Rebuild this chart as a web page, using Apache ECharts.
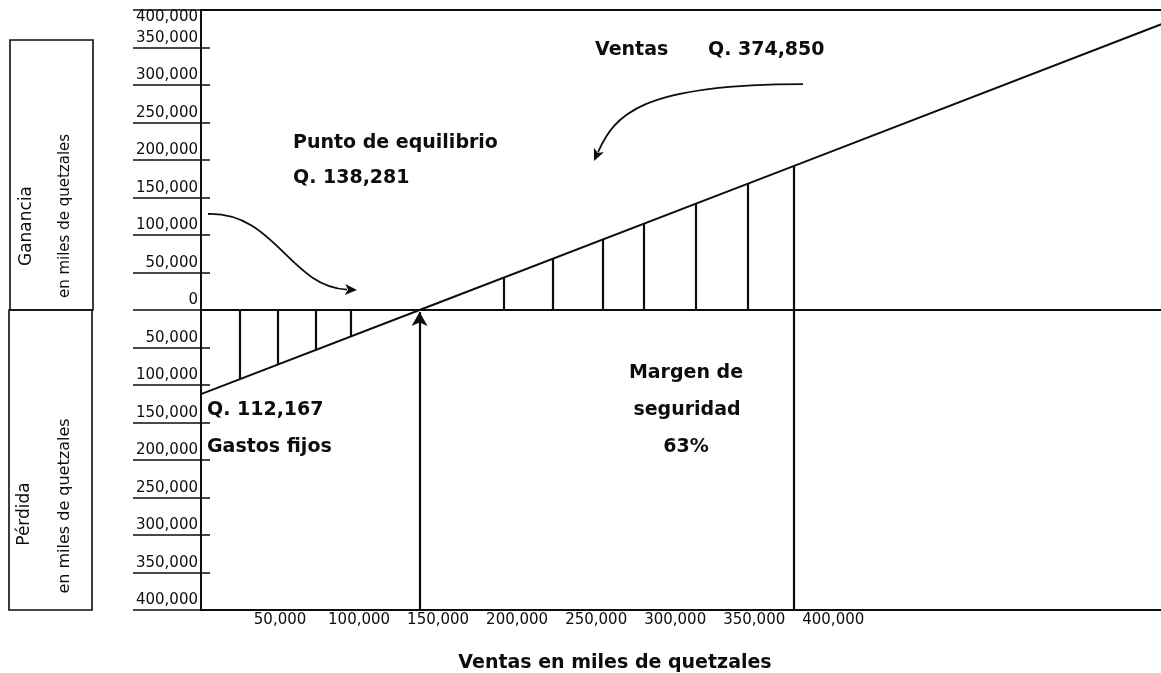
<!DOCTYPE html>
<html><head><meta charset="utf-8">
<script src="https://cdn.jsdelivr.net/npm/echarts@6/dist/echarts.min.js"></script>
<style>html,body{margin:0;padding:0;background:#fff}#c{width:1161px;height:673px}</style>
</head><body><div id="c"></div>
<script>
// ---- data ----
const lineSales  = [0, 138281, 374850, 610000];        // ventas (Q)
const lineProfit = [-112167, 0, 191880, 383000];       // ganancia / pérdida (Q)
const breakEvenSales = 138281;
const totalSales = 374850;
const totalSalesProfit = 191880;
const hatchSales  = [24700, 48700, 72800, 95000, 191700, 222300, 254200, 280200, 313300, 345700];
const hatchProfit = [-92000, -73000, -54000, -35000, 43000, 68000, 94000, 115000, 142000, 168000];
const xTickLabels = ['', '50,000', '100,000', '150,000', '200,000', '250,000', '300,000', '350,000', '400,000'];
const yTickLabels = ['400,000','350,000','300,000','250,000','200,000','150,000','100,000','50,000','0',
                     '50,000','100,000','150,000','200,000','250,000','300,000','350,000','400,000'];
const yTickValues = [400000,350000,300000,250000,200000,150000,100000,50000,0,
                     -50000,-100000,-150000,-200000,-250000,-300000,-350000,-400000];
// annotation arrows: start, control 1, control 2, tip (data units)
const arrowGastos = [[4400, 128000], [46800, 130700], [56300, 30700], [98700, 26700]];
const arrowVentas = [[380900, 301300], [277700, 301300], [261900, 260000], [248600, 198700]];

const INK = '#0d0d0d';
const chart = echarts.init(document.getElementById('c'), null, {renderer: 'canvas'});

function yLabel(v) {
  const i = yTickValues.indexOf(v);
  return i >= 0 ? yTickLabels[i] : '';
}
function xLabel(v) {
  const i = Math.round(v / 50000);
  return (v % 50000 === 0 && i < xTickLabels.length) ? xTickLabels[i] : '';
}

const hatchPairs = hatchSales.map((s, i) => [{coord: [s, 0]}, {coord: [s, hatchProfit[i]]}]);
hatchPairs.push([{coord: [totalSales, totalSalesProfit]}, {coord: [totalSales, -400000]}]);

const boldFont = {fontFamily: 'DejaVu Sans', fontWeight: 'bold', fontSize: 19, fill: INK};
function txt(text, x, y, align) {
  return {type: 'text', style: Object.assign({text: text, x: x, y: y, align: align || 'left', verticalAlign: 'middle'}, boldFont)};
}

const option = {
  animation: false,
  backgroundColor: '#fff',
  grid: {left: 201, right: -20, top: 10, bottom: 63, containLabel: false, outerBoundsMode: 'none',
         show: true, borderColor: INK, borderWidth: 1.8, backgroundColor: 'transparent'},
  xAxis: {
    type: 'value', min: 0, max: 620000, interval: 50000,
    axisLine: {onZero: false, show: true, lineStyle: {color: INK, width: 1.8}},
    axisTick: {show: false}, splitLine: {show: false},
    axisLabel: {formatter: xLabel, fontFamily: 'DejaVu Sans', fontSize: 15, color: INK, margin: 3, showMaxLabel: false}
  },
  yAxis: [{
    type: 'value', min: -400000, max: 400000, interval: 50000,
    axisLine: {show: true, lineStyle: {color: INK, width: 1.8}},
    axisTick: {show: true, length: 68, lineStyle: {color: INK, width: 1.5}},
    splitLine: {show: false},
    axisLabel: {formatter: yLabel, fontFamily: 'DejaVu Sans', fontSize: 15, color: INK, margin: 3,
                verticalAlign: 'bottom', verticalAlignMaxLabel: 'top', padding: [0, 0, 2, 0]}
  }, {
    type: 'value', min: -400000, max: 400000, interval: 50000, position: 'left',
    axisLine: {show: false}, axisLabel: {show: false}, splitLine: {show: false},
    axisTick: {show: true, inside: true, length: 9, lineStyle: {color: INK, width: 1.5}}
  }],
  series: [
    {
      type: 'line', data: lineSales.map((s, i) => [s, lineProfit[i]]),
      symbol: 'none', lineStyle: {color: INK, width: 1.9}, silent: true,
      markLine: {silent: true, symbol: 'none', label: {show: false},
        lineStyle: {color: INK, width: 1.8, type: 'solid'}, data: [{yAxis: 0}]}
    },
    {
      type: 'line', data: [], silent: true,
      markLine: {silent: true, symbol: 'none', label: {show: false},
        lineStyle: {color: INK, width: 2.2, type: 'solid'}, data: hatchPairs}
    },
    {
      type: 'line', data: [], silent: true,
      markLine: {silent: true, symbol: ['none', 'arrow'], symbolSize: [12, 14], label: {show: false},
        lineStyle: {color: INK, width: 2.2, type: 'solid'},
        data: [[{coord: [breakEvenSales, -400000]}, {coord: [breakEvenSales, -2500]}]]}
    }
  ]
};
chart.setOption(option);

// curved annotation arrows, positioned through the chart's own scales
function curvedArrow(pts) {
  const p = pts.map(d => chart.convertToPixel({gridIndex: 0}, d));
  const tip = p[3], c2 = p[2];
  let dx = tip[0] - c2[0], dy = tip[1] - c2[1];
  const len = Math.sqrt(dx * dx + dy * dy); dx /= len; dy /= len;
  const L = 12, W = 5.5;
  const bx = tip[0] - dx * L, by = tip[1] - dy * L;
  return [
    {type: 'bezierCurve', silent: true,
     shape: {x1: p[0][0], y1: p[0][1], cpx1: p[1][0], cpy1: p[1][1], cpx2: p[2][0], cpy2: p[2][1],
             x2: bx + dx * 2, y2: by + dy * 2},
     style: {stroke: INK, lineWidth: 1.8, fill: 'none'}},
    {type: 'polygon', silent: true,
     shape: {points: [tip, [bx - dy * W, by + dx * W], [bx + dx * 3, by + dy * 3], [bx + dy * W, by - dx * W]]},
     style: {fill: INK}}
  ];
}

const graphics = [
  {type: 'rect', shape: {x: 10, y: 40, width: 83, height: 270}, style: {fill: 'none', stroke: INK, lineWidth: 1.6}},
  {type: 'rect', shape: {x: 9, y: 310, width: 83, height: 300}, style: {fill: 'none', stroke: INK, lineWidth: 1.6}},
  {type: 'text', x: 27, y: 226, rotation: Math.PI / 2, style: {text: 'Ganancia', fontFamily: 'DejaVu Sans', fontSize: 17, fill: INK, align: 'center', verticalAlign: 'middle'}},
  {type: 'text', x: 65, y: 216, rotation: Math.PI / 2, style: {text: 'en miles de quetzales', fontFamily: 'DejaVu Sans', fontSize: 15, fill: INK, align: 'center', verticalAlign: 'middle'}},
  {type: 'text', x: 25, y: 514, rotation: Math.PI / 2, style: {text: 'Pérdida', fontFamily: 'DejaVu Sans', fontSize: 17, fill: INK, align: 'center', verticalAlign: 'middle'}},
  {type: 'text', x: 65, y: 506, rotation: Math.PI / 2, style: {text: 'en miles de quetzales', fontFamily: 'DejaVu Sans', fontSize: 16, fill: INK, align: 'center', verticalAlign: 'middle'}},
  txt('Ventas', 595, 50),
  txt('Q. 374,850', 708, 50),
  txt('Punto de equilibrio', 293, 143),
  txt('Q. 138,281', 293, 178),
  txt('Q. 112,167', 207, 410),
  txt('Gastos fijos', 207, 447),
  txt('Margen de', 686, 373, 'center'),
  txt('seguridad', 687, 410, 'center'),
  txt('63%', 686, 447, 'center'),
  txt('Ventas en miles de quetzales', 615, 663, 'center')
].concat(curvedArrow(arrowGastos), curvedArrow(arrowVentas));

chart.setOption({graphic: graphics});
</script>
</body></html>
